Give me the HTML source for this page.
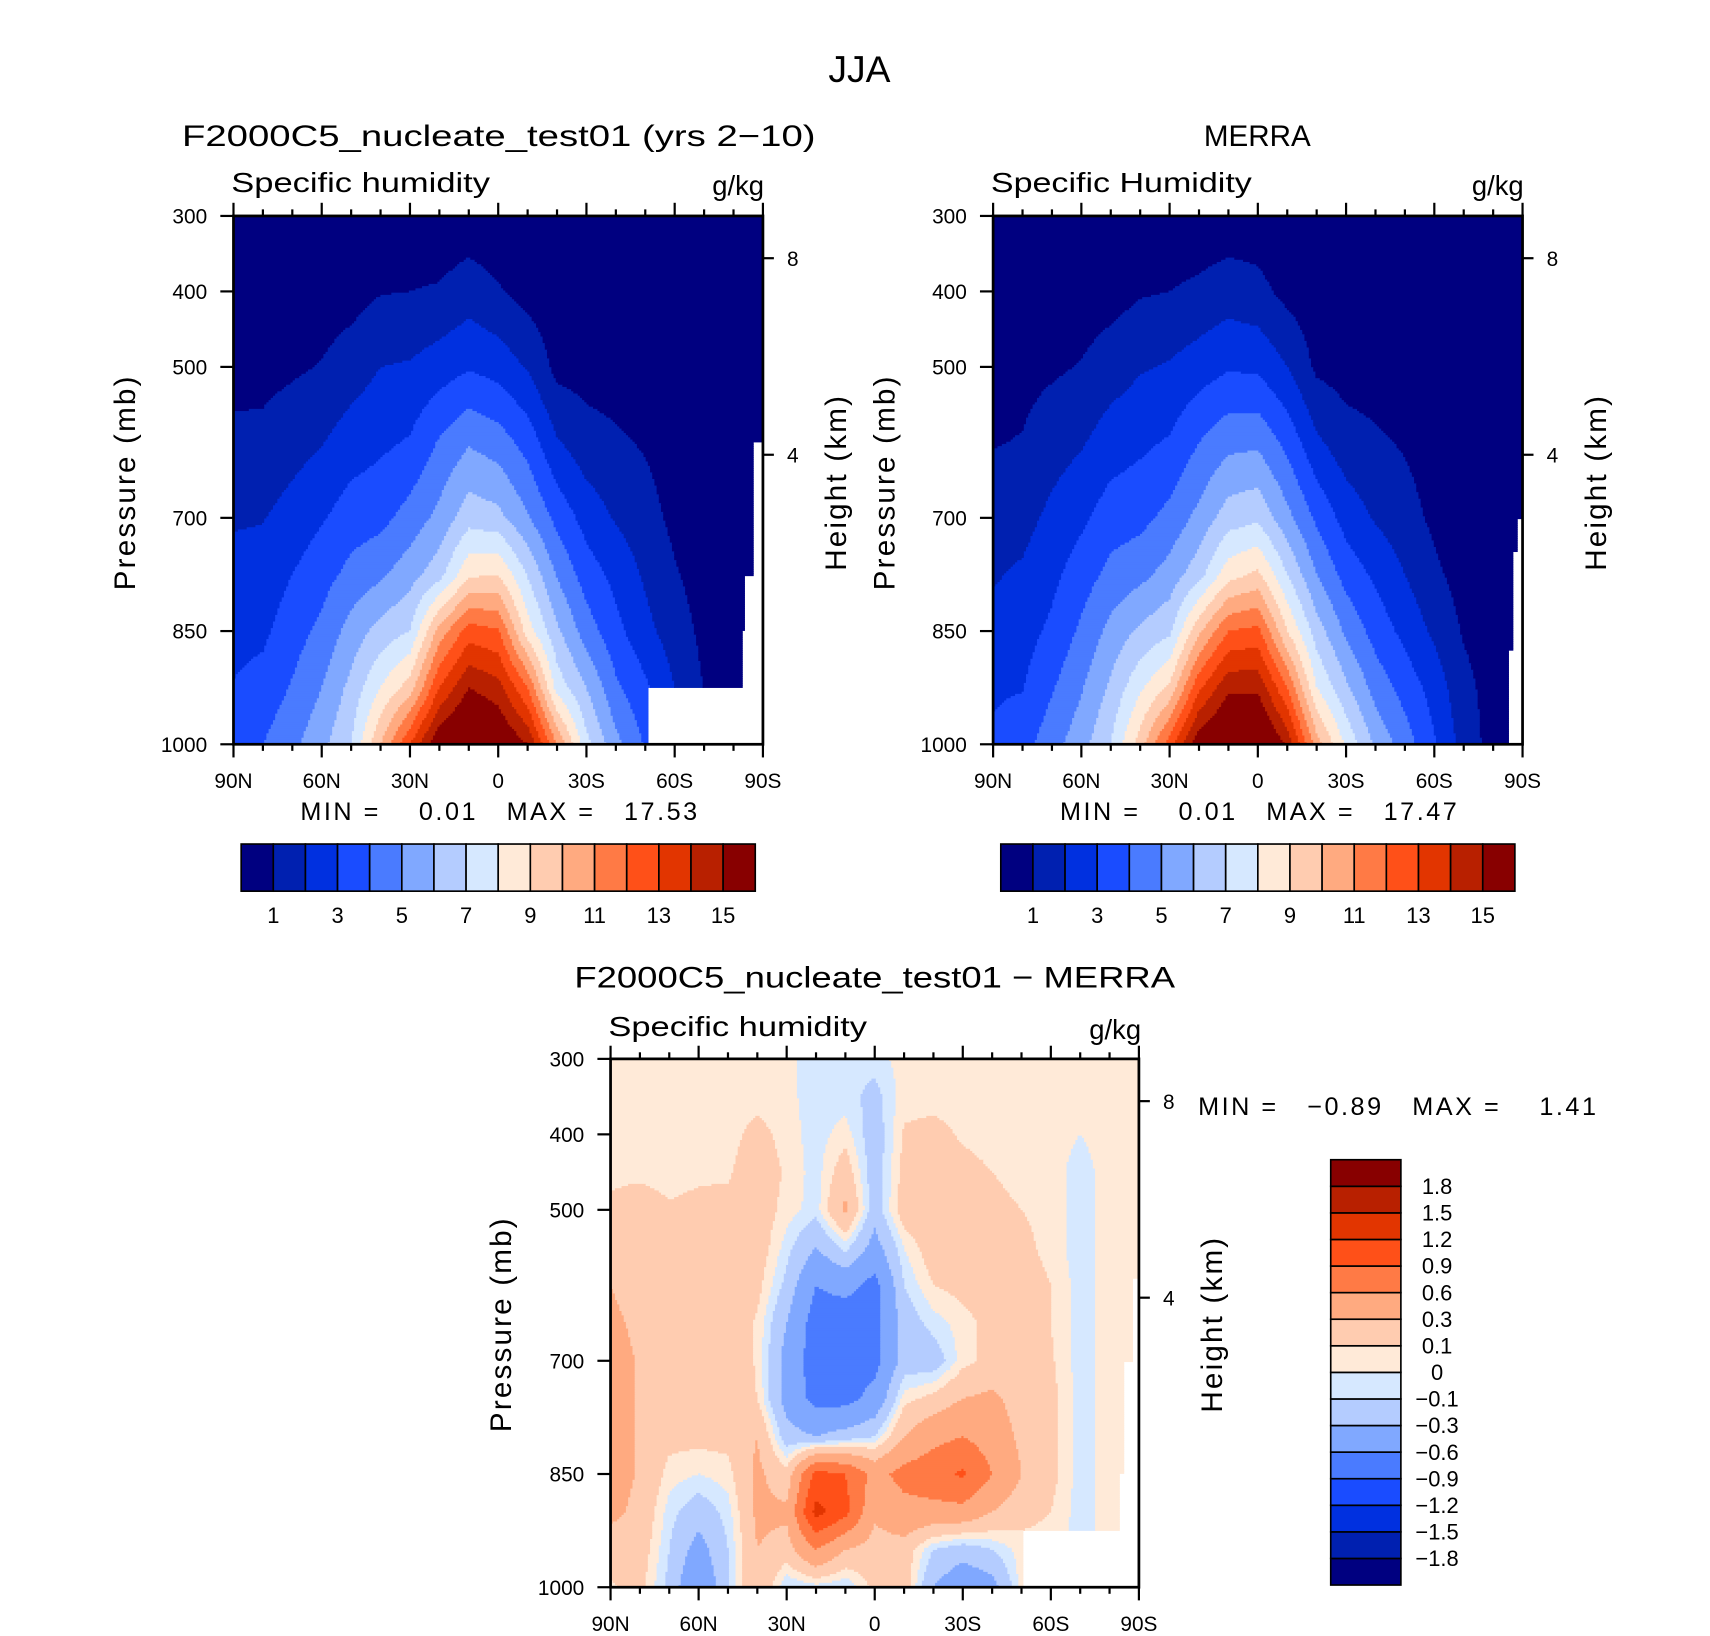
<!DOCTYPE html>
<html><head><meta charset="utf-8"><title>JJA Specific humidity</title>
<style>
html,body{margin:0;padding:0;background:#fff;}
svg{display:block;}
text{font-family:"Liberation Sans",sans-serif;fill:#000;}
</style></head>
<body>
<svg id="fig" xmlns="http://www.w3.org/2000/svg" width="1710" height="1636" viewBox="0 0 1560 1492.5">
<rect x="0" y="0" width="1560" height="1492.5" fill="#fff"/>
<text x="784" y="75" font-size="34" text-anchor="middle">JJA</text>

<text x="166" y="133" font-size="27" textLength="578" lengthAdjust="spacingAndGlyphs">F2000C5_nucleate_test01 (yrs 2−10)</text>
<text x="211" y="175" font-size="25" textLength="236" lengthAdjust="spacingAndGlyphs">Specific humidity</text>
<text x="697" y="178" font-size="25" text-anchor="end">g/kg</text>

<text x="1147" y="133" font-size="27" text-anchor="middle">MERRA</text>
<text x="904" y="175" font-size="25" textLength="238" lengthAdjust="spacingAndGlyphs">Specific Humidity</text>
<text x="1390" y="178" font-size="25" text-anchor="end">g/kg</text>

<text x="798" y="901" font-size="27" text-anchor="middle" textLength="548" lengthAdjust="spacingAndGlyphs">F2000C5_nucleate_test01 − MERRA</text>
<text x="555" y="945" font-size="25" textLength="236" lengthAdjust="spacingAndGlyphs">Specific humidity</text>
<text x="1041" y="948" font-size="25" text-anchor="end">g/kg</text>

<text transform="translate(123,440) rotate(-90)" font-size="27" text-anchor="middle" letter-spacing="2">Pressure (mb)</text>
<text transform="translate(772,440) rotate(-90)" font-size="27" text-anchor="middle" letter-spacing="2">Height (km)</text>
<text transform="translate(816,440) rotate(-90)" font-size="27" text-anchor="middle" letter-spacing="2">Pressure (mb)</text>
<text transform="translate(1465,440) rotate(-90)" font-size="27" text-anchor="middle" letter-spacing="2">Height (km)</text>
<text transform="translate(466,1208) rotate(-90)" font-size="27" text-anchor="middle" letter-spacing="2">Pressure (mb)</text>
<text transform="translate(1115,1208) rotate(-90)" font-size="27" text-anchor="middle" letter-spacing="2">Height (km)</text>

<text x="274" y="748" font-size="23" xml:space="preserve" textLength="362" lengthAdjust="spacing">MIN =    0.01   MAX =   17.53</text>
<text x="967" y="748" font-size="23" xml:space="preserve" textLength="362" lengthAdjust="spacing">MIN =    0.01   MAX =   17.47</text>
<text x="1093" y="1017" font-size="23" xml:space="preserve" textLength="363" lengthAdjust="spacing">MIN =   −0.89   MAX =    1.41</text>

<g id="panels"></g>
</svg>
<script>
// ---------- data ----------
const lats = [90,80,70,60,50,40,30,20,10,0,-10,-20,-30,-40,-50,-60,-70,-80,-90];
const presLevels = [300,400,500,600,700,775,850,925,1000];
const diffPresLevels = [300,350,400,450,500,550,600,650,700,750,800,850,900,950,1000];
const qLevels = [1,2,3,4,5,6,7,8,9,10,11,12,13,14,15];
const qTickLabels = ["1","3","5","7","9","11","13","15"];
const diffLevels = [-1.8,-1.5,-1.2,-0.9,-0.6,-0.3,-0.1,0,0.1,0.3,0.6,0.9,1.2,1.5,1.8];
const diffTickLabels = ["−1.8","−1.5","−1.2","−0.9","−0.6","−0.3","−0.1","0","0.1","0.3","0.6","0.9","1.2","1.5","1.8"];
const pressureTicks = [300,400,500,700,850,1000];
const heightTicks = [8,4];
const latTickLabels = ["90N","60N","30N","0","30S","60S","90S"];
const qModel = [
[0.2,0.4,0.7,1.2,1.9,2.3,2.7,3.05,3.4],
[0.2,0.4,0.7,1.25,1.95,2.4,2.8,3.35,4.0],
[0.2,0.45,0.85,1.6,2.4,3.0,3.55,4.1,4.75],
[0.25,0.5,1.05,1.95,2.9,3.6,4.25,5.0,5.7],
[0.3,0.6,1.5,2.5,3.5,4.3,5.4,6.3,7.0],
[0.3,0.95,2.0,2.8,3.7,4.8,6.4,8.0,10.0],
[0.3,1.0,2.1,3.1,4.4,5.6,7.0,9.5,13.0],
[0.3,1.1,2.5,4.1,5.3,6.6,10.4,13.0,16.0],
[0.4,1.5,2.9,4.9,6.6,8.8,12.5,15.0,17.0],
[0.3,1.1,2.6,4.5,6.3,9.0,12.1,14.4,16.3],
[0.2,0.6,1.9,3.6,5.1,6.9,8.5,12.0,15.0],
[0.2,0.4,0.7,2.1,3.7,4.9,6.2,7.6,11.0],
[0.2,0.35,0.6,1.4,2.6,3.5,4.5,6.0,7.3],
[0.2,0.35,0.55,1.15,1.9,2.7,3.3,4.2,5.3],
[0.2,0.3,0.5,0.9,1.4,1.85,2.3,3.2,3.9],
[0.1,0.2,0.3,0.5,0.75,1.1,1.5,2.0,2.2],
[0.1,0.15,0.2,0.3,0.4,0.55,0.75,0.95,1.0],
[0.1,0.12,0.15,0.2,0.3,0.4,0.5,0.6,0.6],
[0.1,0.1,0.12,0.15,0.2,0.3,0.4,0.5,0.5]];
const qMerra = [
[0.2,0.4,0.65,0.95,1.5,1.9,2.35,2.85,3.2],
[0.2,0.4,0.7,1.05,1.65,2.15,2.6,2.95,3.6],
[0.2,0.45,0.85,1.55,2.25,2.75,3.2,3.9,4.6],
[0.25,0.5,1.05,1.9,2.8,3.5,4.2,4.9,5.6],
[0.3,0.6,1.5,2.5,3.5,4.3,5.3,6.2,7.0],
[0.3,0.9,1.9,2.8,3.7,4.7,6.2,7.8,9.5],
[0.3,1.0,2.1,3.1,4.3,5.4,6.8,9.2,12.5],
[0.35,1.2,2.5,4.0,5.3,6.6,9.8,12.8,15.8],
[0.4,1.5,2.9,4.7,6.5,8.6,12.0,14.8,16.8],
[0.4,1.3,2.8,4.8,6.8,9.2,12.3,14.8,16.9],
[0.2,0.7,2.0,3.7,5.3,7.0,9.0,12.0,14.8],
[0.2,0.4,0.8,2.2,3.8,5.0,6.5,8.0,10.5],
[0.2,0.35,0.6,1.4,2.6,3.6,4.8,6.2,7.8],
[0.2,0.35,0.55,1.15,1.9,2.8,3.6,4.6,5.8],
[0.2,0.3,0.5,0.9,1.4,2.0,2.7,3.6,4.5],
[0.1,0.2,0.3,0.5,0.8,1.2,1.8,2.6,3.1],
[0.1,0.15,0.2,0.3,0.4,0.6,0.9,1.3,1.6],
[0.1,0.12,0.15,0.2,0.3,0.4,0.5,0.6,0.6],
[0.1,0.1,0.12,0.15,0.2,0.3,0.4,0.5,0.5]];
const qDiff = [
[0.05,0.05,0.05,0.08,0.12,0.2,0.3,0.35,0.4,0.4,0.4,0.4,0.35,0.2,0.08],
[0.05,0.05,0.05,0.08,0.15,0.2,0.2,0.25,0.28,0.28,0.28,0.28,0.25,0.2,0.15],
[0.05,0.05,0.05,0.07,0.11,0.2,0.2,0.2,0.2,0.2,0.15,0.05,-0.05,-0.1,-0.15],
[0.05,0.05,0.05,0.08,0.13,0.2,0.2,0.2,0.22,0.2,0.15,0.0,-0.2,-0.4,-0.6],
[0.05,0.05,0.05,0.08,0.15,0.2,0.2,0.2,0.25,0.2,0.15,0.05,-0.05,-0.1,-0.1],
[0.05,0.05,0.15,0.2,0.2,0.2,0.15,0.08,0.08,0.1,0.3,0.35,0.35,0.3,0.3],
[0.03,0.03,0.05,0.08,0.05,-0.05,-0.15,-0.3,-0.4,-0.4,-0.2,0.15,0.35,0.2,-0.1],
[-0.05,-0.05,-0.05,-0.05,-0.05,-0.3,-0.6,-0.75,-0.75,-0.7,-0.3,1.0,1.3,0.6,-0.05],
[-0.05,-0.05,0.05,0.2,0.35,-0.05,-0.5,-0.8,-0.75,-0.7,-0.2,0.9,1.0,0.3,-0.1],
[-0.05,-0.15,-0.2,-0.2,-0.2,-0.4,-0.7,-0.7,-0.7,-0.5,-0.1,0.5,0.35,0.2,0.15],
[0.05,0.05,0.12,0.15,0.2,0.0,-0.1,-0.2,-0.2,0.05,0.3,0.7,0.5,0.2,0.2],
[0.0,0.05,0.15,0.2,0.2,0.2,0.1,-0.05,-0.2,0.15,0.5,0.8,0.5,-0.1,-0.3],
[0.05,0.05,0.08,0.15,0.2,0.2,0.15,0.05,0.05,0.3,0.6,0.95,0.5,-0.2,-0.5],
[0.05,0.05,0.05,0.1,0.15,0.2,0.2,0.15,0.15,0.35,0.45,0.6,0.3,-0.1,-0.4],
[0.05,0.05,0.05,0.05,0.1,0.15,0.2,0.2,0.2,0.2,0.25,0.3,0.15,0.05,0.05],
[0.05,0.05,0.05,0.05,0.05,0.05,0.1,0.1,0.12,0.15,0.15,0.15,0.1,0.05,0.05],
[0.05,0.05,0.0,-0.05,-0.05,-0.05,-0.05,-0.05,-0.05,-0.05,-0.05,-0.05,-0.05,-0.05,-0.05],
[0.05,0.05,0.05,0.05,0.05,0.05,0.05,0.05,0.05,0.05,0.05,0.05,0.05,0.05,0.05],
[0.05,0.05,0.05,0.05,0.05,0.05,0.05,0.05,0.05,0.05,0.05,0.05,0.05,0.05,0.05]];
const maskModel = [[-50.5,925],[-82.6,850],[-84,775],[-87,600]];
const maskMerra = [[-85,875],[-87,745],[-88.5,700]];
const maskDiff = [[-50.5,925],[-83.3,850],[-85,700],[-87.5,590]];

const COLORS = ["#000080","#0020b0","#0030e0","#1a4cff","#4a7bff","#80a8ff","#b4ccff","#d6e8ff","#ffead8","#ffccb0","#ffaa80","#ff7a45","#ff5018","#e23500","#b82000","#880000"];

const NS = "http://www.w3.org/2000/svg";
const root = document.getElementById("panels");
function mk(tag, attrs, parent){
  const e = document.createElementNS(NS, tag);
  for (const k in attrs) e.setAttribute(k, attrs[k]);
  (parent||root).appendChild(e);
  return e;
}
function interp(arr, v){
  if (v <= arr[0]) return 0;
  for (let i=0;i<arr.length-1;i++){
    if (v <= arr[i+1]) return i + (v-arr[i])/(arr[i+1]-arr[i]);
  }
  return arr.length-1;
}
function classify(v, levels){ let c=0; for (const l of levels) if (v >= l) c++; return c; }
function heightToP(z){ return 1013.25*Math.pow(1-2.25577e-5*z*1000,5.2559); }

function panel(name, x0, y0, W, H, pres, vals, levels, mask){
  const xOf = lat => x0 + (90-lat)/180*W;
  const yOf = p => y0 + (p-300)/700*H;
  const g = mk("g", {});
  
  
  const step = 2;
  for (let py=0; py<H; py+=step){
    const p = 300 + (py+step/2)/H*700;
    const ri = interp(pres, p);
    const r0 = Math.min(Math.floor(ri), pres.length-2), rf = ri - r0;
    let runStart = 0, runCls = -2;
    const flush = (endX) => {
      if (runCls >= 0){
        const r = mk("rect", {x:(x0+runStart).toFixed(1), y:(y0+py).toFixed(1), width:(Math.min(endX,W)-runStart+0.6).toFixed(1), height:(Math.min(step, H-py)+0.6).toFixed(1), fill:COLORS[runCls]}, g);
        
        
      }
    };
    for (let px=0; px<W; px+=step){
      const lat = 90 - (px+step/2)/W*180;
      let cls;
      let masked = false;
      for (const m of mask) if (lat <= m[0] && p >= m[1]) masked = true;
      if (masked) cls = -1;
      else {
        const ci = (90-lat)/10;
        const c0 = Math.min(Math.floor(ci), lats.length-2), cf = ci - c0;
        const v00 = vals[c0][r0], v01 = vals[c0][r0+1], v10 = vals[c0+1][r0], v11 = vals[c0+1][r0+1];
        const v = (v00*(1-rf)+v01*rf)*(1-cf) + (v10*(1-rf)+v11*rf)*cf;
        cls = classify(v, levels);
      }
      if (cls !== runCls){ flush(px); runStart = px; runCls = cls; }
    }
    flush(W);
  }
  const fr = mk("rect", {x:x0, y:y0, width:W, height:H, fill:"none", stroke:"#000", "stroke-width":2.5});
  
  
  for (let lat=90; lat>=-90; lat-=10){
    const major = (lat % 30 === 0);
    const len = major ? 12 : 6;
    const x = xOf(lat);
    const t1 = mk("line", {x1:x, x2:x, y1:y0+H, y2:y0+H+len, stroke:"#000", "stroke-width":2});
    
    
    const t2 = mk("line", {x1:x, x2:x, y1:y0, y2:y0-len, stroke:"#000", "stroke-width":2});
    
    
  }
  latTickLabels.forEach((lab,i)=>{
    const t = mk("text", {x:xOf(90-30*i), y:y0+H+40, "font-size":19, "text-anchor":"middle"});
    t.textContent = lab;
    
    
  });
  pressureTicks.forEach(p=>{
    const y = yOf(p);
    const l = mk("line", {x1:x0-12, x2:x0, y1:y, y2:y, stroke:"#000", "stroke-width":2});
    
    
    const t = mk("text", {x:x0-24, y:y+7, "font-size":19, "text-anchor":"end"});
    t.textContent = p;
    
    
  });
  heightTicks.forEach(z=>{
    const y = yOf(heightToP(z));
    const l = mk("line", {x1:x0+W, x2:x0+W+10, y1:y, y2:y, stroke:"#000", "stroke-width":2});
    
    
    const t = mk("text", {x:x0+W+22, y:y+7, "font-size":19});
    t.textContent = z;
    
    
  });
}

function hColorbar(name, x0, y0, W, H){
  const g = mk("g", {});
  
  
  const bw = W/COLORS.length;
  COLORS.forEach((c,i)=>{
    const r = mk("rect", {x:x0+i*bw, y:y0, width:bw, height:H, fill:c, stroke:"#000", "stroke-width":1.5}, g);
    
    
  });
  qTickLabels.forEach(lab=>{
    const k = qLevels.indexOf(Number(lab)) + 1;
    const t = mk("text", {x:x0+k*bw, y:y0+H+29, "font-size":20, "text-anchor":"middle"}, g);
    t.textContent = lab;
    
    
  });
}
function vColorbar(name, x0, y0, W, H){
  const g = mk("g", {});
  
  
  const bh = H/COLORS.length;
  COLORS.forEach((c,i)=>{
    const r = mk("rect", {x:x0, y:y0+H-(i+1)*bh, width:W, height:bh, fill:c, stroke:"#000", "stroke-width":1.5}, g);
    
    
  });
  diffTickLabels.forEach((lab,i)=>{
    const y = y0 + H - (i+1)*bh;
    const t = mk("text", {x:x0+W+33, y:y+7, "font-size":20, "text-anchor":"middle"}, g);
    t.textContent = lab;
    
    
  });
}

panel("model", 213, 197, 483, 482, presLevels, qModel, qLevels, maskModel);
panel("merra", 906, 197, 483, 482, presLevels, qMerra, qLevels, maskMerra);
panel("diff", 557, 966, 482, 482, diffPresLevels, qDiff, diffLevels, maskDiff);
hColorbar("model", 220, 770, 469, 43);
hColorbar("merra", 913, 770, 469, 43);
vColorbar("diff", 1214, 1058, 64, 388);
</script>
</body></html>
